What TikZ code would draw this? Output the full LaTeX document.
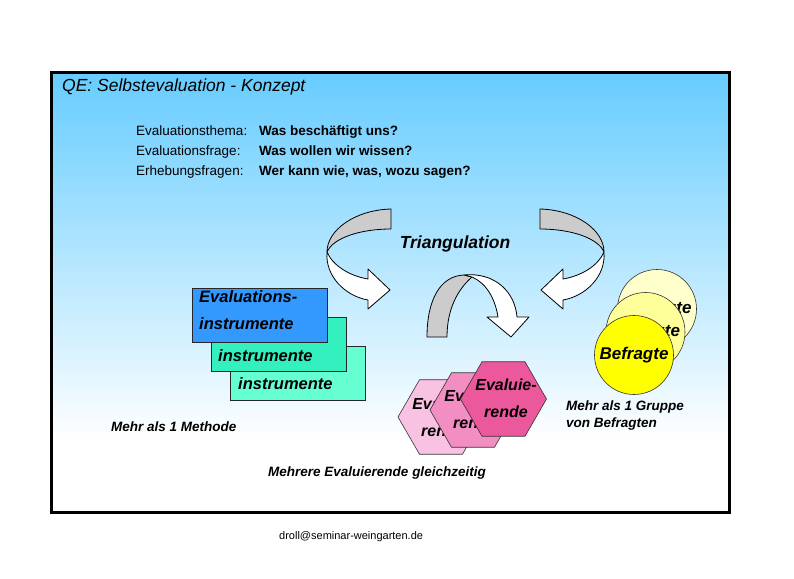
\documentclass[tikz,border=0pt]{standalone}
\usepackage{fontspec}
\setmainfont{Liberation Sans}
\usetikzlibrary{shapes.geometric}
\definecolor{skytop}{RGB}{102,204,255}
\definecolor{boxblue}{RGB}{51,153,255}
\definecolor{boxteal}{RGB}{51,240,190}
\definecolor{boxmint}{RGB}{102,255,210}
\definecolor{hexfront}{RGB}{236,88,156}
\definecolor{hexmid}{RGB}{242,142,194}
\definecolor{hexback}{RGB}{250,194,226}
\definecolor{circback}{RGB}{255,255,204}
\definecolor{circmid}{RGB}{255,255,153}
\definecolor{circfront}{RGB}{255,255,0}
\definecolor{arrowgray}{RGB}{204,204,204}
\begin{document}
\begin{tikzpicture}[x=1pt,y=-1pt,
  lbl/.style={anchor=base west,inner sep=0pt,font=\fontsize{13.5}{16}\selectfont},
  val/.style={anchor=base west,inner sep=0pt,font=\fontsize{13.5}{16}\selectfont\bfseries},
  bi/.style={inner sep=0pt,font=\fontsize{13.5}{17}\selectfont\bfseries\itshape},
  instbox/.style={draw=black!85,line width=0.8pt,minimum width=135pt,minimum height=54pt,inner sep=0pt},
  insttext/.style={anchor=west,inner sep=0pt,font=\fontsize{16.5}{27}\selectfont\bfseries\itshape},
  hexa/.style={regular polygon,regular polygon sides=6,minimum size=86pt,inner sep=0pt,draw=black!80,line width=0.6pt},
  hextext/.style={inner sep=0pt,align=center,font=\fontsize{16}{27}\selectfont\bfseries\itshape},
  circ/.style={circle,minimum size=79pt,inner sep=0pt,draw=black!80,line width=0.6pt,font=\fontsize{17}{20}\selectfont\bfseries\itshape},
  bendarrow/.style={draw=black,line width=0.8pt,line join=round}]
\useasboundingbox (0,0) rectangle (794,578);
% background of frame
\shade[top color=skytop,bottom color=white] (51,72) rectangle (729,440);
\fill[white] (51,440) rectangle (729,512);
\draw[line width=3pt] (51,72) rectangle (729,512);

% title and questions
\node[anchor=west,inner sep=0pt,font=\fontsize{17.5}{20}\selectfont\itshape] (title) at (62,87) {QE: Selbstevaluation - Konzept};
\node[lbl] (l1) at (136,135) {Evaluationsthema:};
\node[lbl] (l2) at (136,155) {Evaluationsfrage:};
\node[lbl] (l3) at (136,175) {Erhebungsfragen:};
\node[val] (v1) at (259,135) {Was beschäftigt uns?};
\node[val] (v2) at (259,155) {Was wollen wir wissen?};
\node[val] (v3) at (259,175) {Wer kann wie, was, wozu sagen?};

% Triangulation
\node[bi,font=\fontsize{17.5}{20}\selectfont\bfseries\itshape] (tri) at (455,244) {Triangulation};

% left curved arrow
\filldraw[bendarrow,fill=arrowgray] (391,209) .. controls (355,210) and (327,230) .. (327,252)
  .. controls (333,238) and (360,229) .. (391,229) -- cycle;
\filldraw[bendarrow,fill=white] (327,252) .. controls (325,276) and (345,296) .. (368,300)
  -- (368,309) -- (390,290) -- (368,269) -- (368,279)
  .. controls (350,276) and (333,266) .. (327,252) -- cycle;
% right curved arrow (mirror)
\filldraw[bendarrow,fill=arrowgray] (540,209) .. controls (576,210) and (604,230) .. (604,252)
  .. controls (598,238) and (571,229) .. (540,229) -- cycle;
\filldraw[bendarrow,fill=white] (604,252) .. controls (606,276) and (586,296) .. (563,300)
  -- (563,309) -- (541,290) -- (563,269) -- (563,279)
  .. controls (581,276) and (598,266) .. (604,252) -- cycle;
% middle arch arrow
\filldraw[bendarrow,fill=arrowgray] (427,337) .. controls (427,300) and (440,276) .. (464,275)
  -- (472,277) .. controls (457,290) and (447,310) .. (447,337) -- cycle;
\filldraw[bendarrow,fill=white] (464,275) .. controls (495,272) and (515,292) .. (517,317)
  -- (529,317) -- (511,337) -- (487,317) -- (498,317)
  .. controls (495,298) and (486,283) .. (472,277) -- cycle;

% instrument boxes
\node[instbox,fill=boxmint] (b3) at (298,373) {};
\node[insttext] (t3) at (238,384) {instrumente};
\node[instbox,fill=boxteal] (b2) at (278.5,344) {};
\node[insttext] (t2) at (218,356) {instrumente};
\node[instbox,fill=boxblue] (b1) at (259.5,315) {};
\node[insttext,align=left,anchor=north west] (t1) at (199,290) {Evaluations-\\instrumente};
\node[bi,anchor=west] (m1) at (111,427) {Mehr als 1 Methode};

% hexagons
\node[hexa,fill=hexback] (h3) at (441,417) {};
\node[hextext] (ht3) at (443,417) {Evaluie-\\rende};
\node[hexa,fill=hexmid] (h2) at (473,410) {};
\node[hextext] (ht2) at (475,409) {Evaluie-\\rende};
\node[hexa,fill=hexfront] (h1) at (503.5,399) {};
\node[hextext] (ht1) at (506,398.5) {Evaluie-\\rende};
\node[bi,anchor=west] (m2) at (268,473) {Mehrere Evaluierende gleichzeitig};

% circles
\node[circ,fill=circback] (c3) at (657,309) {Befragte};
\node[circ,fill=circmid] (c2) at (645.5,332) {Befragte};
\node[circ,fill=circfront] (c1) at (634,355) {Befragte};
\node[bi,anchor=north west,align=left] (m3) at (566,401) {Mehr als 1 Gruppe\\von Befragten};

% email
\node[anchor=west,inner sep=0pt,font=\fontsize{11}{13}\selectfont] (mail) at (279,537) {droll@seminar-weingarten.de};
\end{tikzpicture}
\end{document}
